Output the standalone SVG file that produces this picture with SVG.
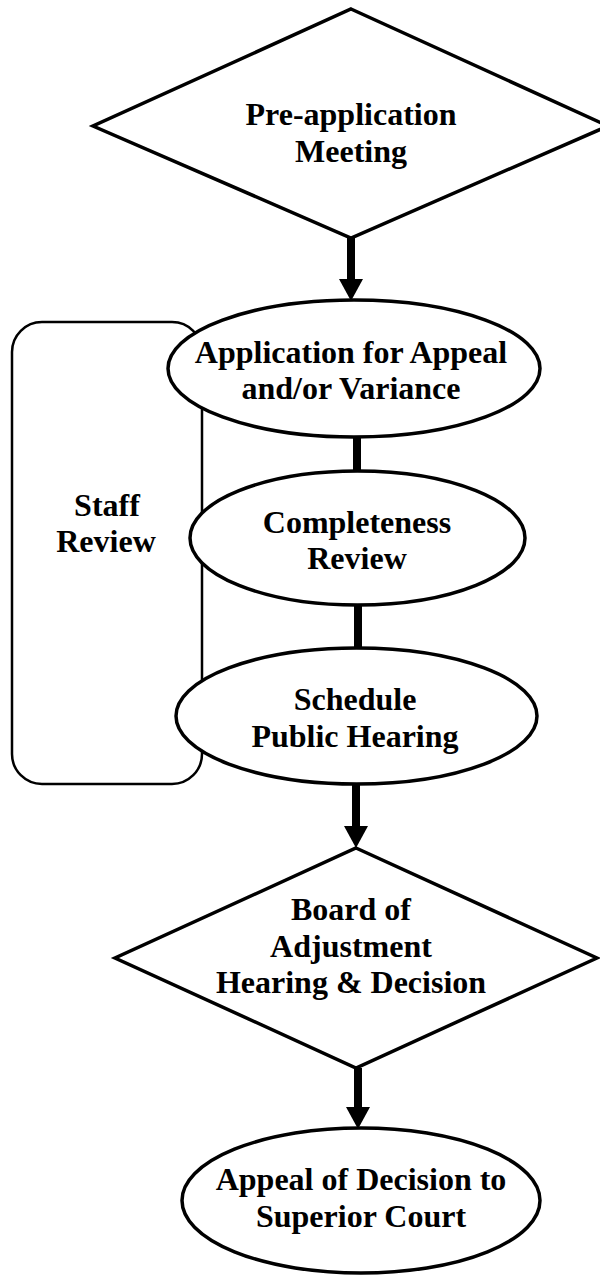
<svg xmlns="http://www.w3.org/2000/svg" width="600" height="1275" viewBox="0 0 600 1275">
  <defs>
    <style>
      .shape { fill: #ffffff; stroke: #000000; stroke-width: 3.5; }
      .frame { fill: #ffffff; stroke: #000000; stroke-width: 2.5; }
      .label { font-family: "Liberation Serif", "Times New Roman", serif; font-weight: bold; font-size: 32px; fill: #000000; text-anchor: middle; }
      .flow { stroke: #000000; stroke-width: 8; fill: none; }
    </style>
    <marker id="head" markerUnits="userSpaceOnUse" markerWidth="22" markerHeight="24" refX="1" refY="12" orient="auto">
      <path d="M0,0 L22,12 L0,24 Z" fill="#000000"/>
    </marker>
  </defs>

  <rect width="600" height="1275" fill="#ffffff"/>

  <!-- Staff review bracket, sits behind the three review steps -->
  <g id="staff-review">
    <rect class="frame" x="12" y="322" width="190" height="462" rx="30" ry="30"/>
    <text class="label" x="107" y="516">Staff</text>
    <text class="label" x="106" y="552">Review</text>
  </g>

  <!-- Flow connectors -->
  <g id="connectors">
    <line class="flow" x1="351" y1="238" x2="351" y2="280" marker-end="url(#head)"/>
    <line class="flow" x1="357" y1="437" x2="357" y2="472"/>
    <line class="flow" x1="358" y1="604" x2="358" y2="649"/>
    <line class="flow" x1="356" y1="783" x2="356" y2="827" marker-end="url(#head)"/>
    <line class="flow" x1="358" y1="1068" x2="358" y2="1108" marker-end="url(#head)"/>
  </g>

  <g id="pre-application-meeting">
    <polygon class="shape" points="351,9 608,126 351,238 93,126"/>
    <text class="label" x="351" y="125">Pre-application</text>
    <text class="label" x="351" y="162">Meeting</text>
  </g>

  <g id="application">
    <ellipse class="shape" cx="354" cy="368.5" rx="186" ry="68.5"/>
    <text class="label" x="351" y="363">Application for Appeal</text>
    <text class="label" x="351" y="399">and/or Variance</text>
  </g>

  <g id="completeness-review">
    <ellipse class="shape" cx="357.5" cy="538" rx="167.5" ry="67"/>
    <text class="label" x="357" y="533">Completeness</text>
    <text class="label" x="357" y="569">Review</text>
  </g>

  <g id="schedule-hearing">
    <ellipse class="shape" cx="356.5" cy="716" rx="180.5" ry="68"/>
    <text class="label" x="355" y="710">Schedule</text>
    <text class="label" x="355" y="747">Public Hearing</text>
  </g>

  <g id="board-decision">
    <polygon class="shape" points="356,848 597,958 356,1068 115,958"/>
    <text class="label" x="351" y="920">Board of</text>
    <text class="label" x="351" y="957">Adjustment</text>
    <text class="label" x="351" y="993">Hearing &amp; Decision</text>
  </g>

  <g id="superior-court-appeal">
    <ellipse class="shape" cx="361" cy="1200.5" rx="179" ry="72.5"/>
    <text class="label" x="361" y="1190">Appeal of Decision to</text>
    <text class="label" x="361" y="1227">Superior Court</text>
  </g>
</svg>
